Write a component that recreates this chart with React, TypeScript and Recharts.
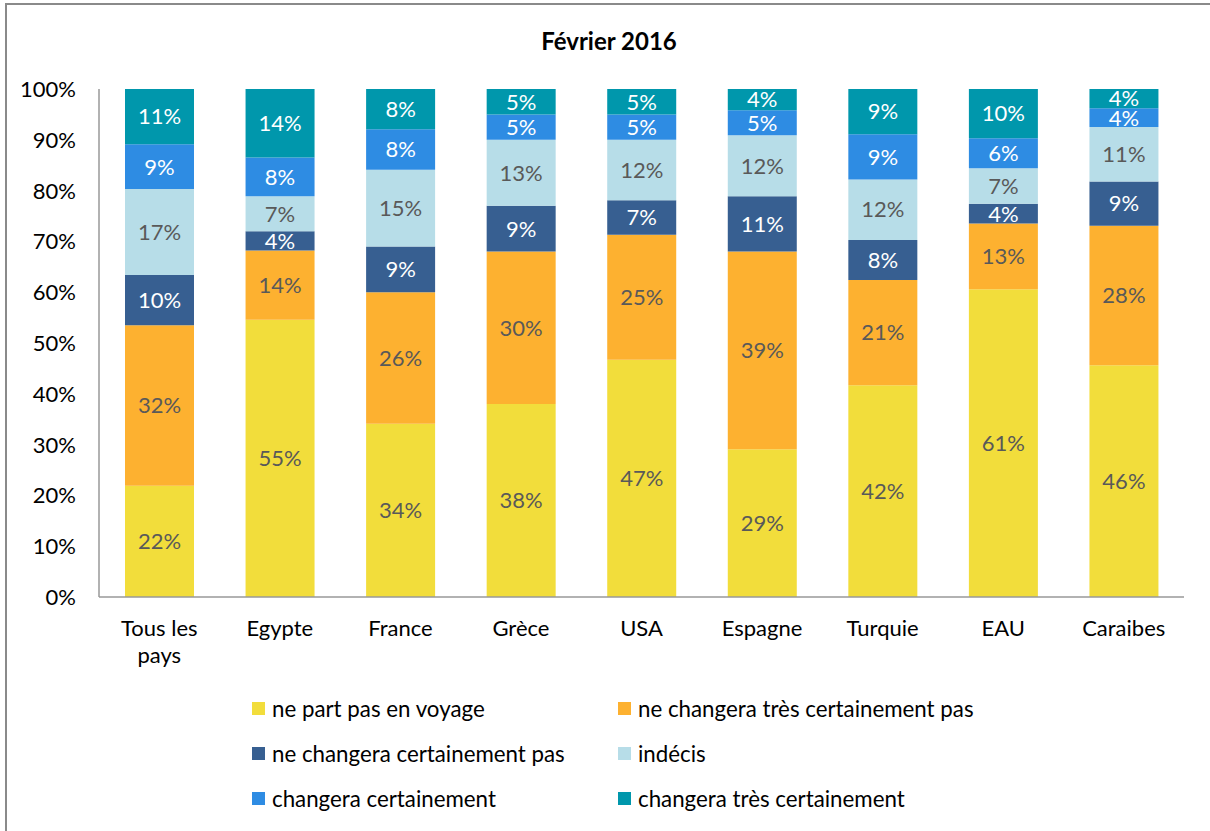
import React from 'react';
import { BarChart, Bar, XAxis, YAxis, Legend, LabelList } from 'recharts';

const categories = ['Tous les pays', 'Egypte', 'France', 'Grèce', 'USA', 'Espagne', 'Turquie', 'EAU', 'Caraibes'];
const nePartPas = [21.9, 54.6, 34.1, 38.0, 46.7, 29.1, 41.7, 60.6, 45.6];
const neChangeraTresCertPas = [31.6, 13.6, 25.9, 30.0, 24.6, 38.9, 20.7, 12.9, 27.5];
const neChangeraCertPas = [9.9, 3.8, 9.0, 9.0, 6.8, 10.9, 7.9, 3.9, 8.7];
const indecis = [16.9, 6.9, 15.1, 13.0, 11.9, 12.0, 11.9, 7.0, 10.7];
const changeraCert = [8.8, 7.6, 8.0, 5.0, 5.0, 4.9, 8.9, 5.9, 3.7];
const changeraTresCert = [10.9, 13.5, 7.9, 5.0, 5.0, 4.2, 8.9, 9.7, 3.8];
const yTicks = [0, 10, 20, 30, 40, 50, 60, 70, 80, 90, 100];
const title = 'Février 2016';

const series = [
  { key: 'a', name: 'ne part pas en voyage', values: nePartPas, color: '#F2DD3B', text: '#595959' },
  { key: 'b', name: 'ne changera très certainement pas', values: neChangeraTresCertPas, color: '#FDB130', text: '#595959' },
  { key: 'c', name: 'ne changera certainement pas', values: neChangeraCertPas, color: '#375F91', text: '#FFFFFF' },
  { key: 'd', name: 'indécis', values: indecis, color: '#B7DDE8', text: '#595959' },
  { key: 'e', name: 'changera certainement', values: changeraCert, color: '#2E8CE3', text: '#FFFFFF' },
  { key: 'f', name: 'changera très certainement', values: changeraTresCert, color: '#0097AC', text: '#FFFFFF' },
];

const data = categories.map((c, i) => {
  const row: any = { name: c };
  series.forEach((s) => { row[s.key] = s.values[i]; });
  return row;
});

const FONT = 'Lato, "Open Sans", sans-serif';

const XTick = (props: any) => {
  const { x, y, payload } = props;
  const label: string = payload.value;
  let lines = [label];
  if (label.length > 10) {
    const idx = label.lastIndexOf(' ');
    lines = [label.slice(0, idx), label.slice(idx + 1)];
  }
  return (
    <text x={x} y={y + 37} textAnchor="middle" fontFamily={FONT} fontSize={22} fill="#000">
      {lines.map((l, i) => (
        <tspan key={i} x={x} dy={i === 0 ? 0 : 27}>{l}</tspan>
      ))}
    </text>
  );
};

const YTick = (props: any) => {
  const { y, payload } = props;
  return (
    <text x={76} y={y + 8} textAnchor="end" fontFamily={FONT} fontSize={22} fill="#000">
      {payload.value + '%'}
    </text>
  );
};

const LegendContent = (props: any) => {
  const { payload } = props;
  const items = [...(payload || [])].sort(
    (p: any, q: any) => series.findIndex((s) => s.key === p.dataKey) - series.findIndex((s) => s.key === q.dataKey)
  );
  return (
    <div style={{ position: 'relative', width: 1210, height: 130 }}>
      {items.map((p: any, i: number) => {
        const row = Math.floor(i / 2);
        const col = i % 2;
        return (
          <div
            key={i}
            style={{
              position: 'absolute',
              left: col === 0 ? 252 : 618,
              top: 20 + row * 45 - 15.5,
              height: 28,
              display: 'flex',
              alignItems: 'center',
              fontFamily: FONT,
              fontSize: 22.3,
              color: '#000',
              whiteSpace: 'nowrap',
            }}
          >
            <span style={{ display: 'inline-block', width: 13, height: 13, background: p.color, marginRight: 7 }} />
            <span>{p.value}</span>
          </div>
        );
      })}
    </div>
  );
};

export default function App() {
  return (
    <div style={{ position: 'absolute', left: 0, top: 0, width: 1210, height: 831, background: '#fff', overflow: 'hidden' }}>
      <div style={{ position: 'absolute', left: 5, top: 3, width: 1300, height: 900, borderLeft: '2px solid #8a8a8a', borderTop: '2px solid #8a8a8a' }} />
      <div style={{ position: 'absolute', left: 0, top: 26, width: 1218, textAlign: 'center', fontFamily: FONT, fontWeight: 700, fontSize: 24, color: '#000' }}>
        {title}
      </div>
      <div style={{ position: 'absolute', left: 0, top: 0 }}>
        <BarChart width={1210} height={831} data={data} margin={{ top: 89, right: 26, bottom: 0, left: 0 }} barSize={69}>
          <XAxis dataKey="name" height={234} tickLine={false} tickSize={0} tick={<XTick />} stroke="#999" strokeWidth={1.5} interval={0} />
          <YAxis width={99} domain={[0, 100]} ticks={yTicks} tickLine={false} tickSize={0} tick={<YTick />} stroke="#999" strokeWidth={1.5} allowDataOverflow />
          <Legend verticalAlign="middle" align="center" layout="horizontal" wrapperStyle={{ top: 690, left: 0, width: 1210, height: 130 }} content={<LegendContent />} />
          {series.map((s) => (
            <Bar key={s.key} dataKey={s.key} name={s.name} stackId="x" fill={s.color} isAnimationActive={false}>
              <LabelList dataKey={s.key} position="center" formatter={(v: any) => Math.round(Number(v)) + '%'} fill={s.text} fontFamily={FONT} fontSize={22} />
            </Bar>
          ))}
        </BarChart>
      </div>
    </div>
  );
}
